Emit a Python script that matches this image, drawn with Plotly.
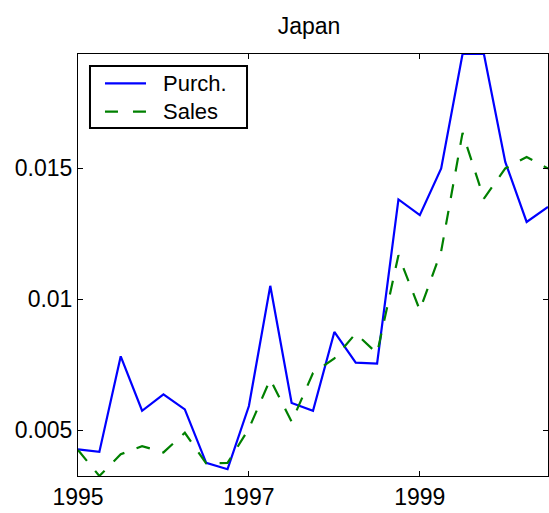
import plotly.graph_objects as go

years = [1995 + 0.25 * i for i in range(23)]
purch = [0.00427, 0.00417, 0.00782, 0.00574, 0.00637, 0.00579, 0.00375, 0.00351,
         0.00592, 0.01051, 0.00604, 0.00574, 0.00875, 0.00758, 0.00754, 0.01381,
         0.01321, 0.01499, 0.01936, 0.01936, 0.01524, 0.01295, 0.01352]
sales = [0.00424, 0.00325, 0.00408, 0.00439, 0.00415, 0.00490, 0.00373, 0.00375,
         0.00506, 0.00694, 0.00532, 0.00718, 0.00774, 0.00869, 0.00793, 0.01168,
         0.00958, 0.01183, 0.01635, 0.01384, 0.01499, 0.01543, 0.01499]
x_ticks = [1995, 1997, 1999]
x_labels = ["1995", "1997", "1999"]
y_ticks = [0.005, 0.01, 0.015]
y_labels = ["0.005", "0.01", "0.015"]
series_names = ["Purch.", "Sales"]
series_colors = ["#0000ff", "#008000"]
series_dash = ["solid", "14px,13px"]

FONT = "Liberation Sans, Arial, Helvetica, sans-serif"

fig = go.Figure()
for name, vals, col, dash in zip(series_names, [purch, sales], series_colors, series_dash):
    fig.add_trace(go.Scatter(x=years, y=vals, mode="lines", name=name, showlegend=False,
                             hoverinfo="skip",
                             line=dict(color=col, width=2.2, dash=dash)))

ymin = min(min(purch), min(sales))
ymax = max(max(purch), max(sales))

axis_common = dict(showline=True, linecolor="black", linewidth=1, mirror="ticks",
                   ticks="inside", ticklen=5, tickcolor="black", tickwidth=1,
                   showgrid=False, zeroline=False,
                   tickfont=dict(family=FONT, size=23, color="black"))

# manual MATLAB-style legend (paper coordinates)
shapes = [dict(type="rect", xref="paper", yref="paper", x0=0.0255, x1=0.3596,
               y0=0.8246, y1=0.9716, line=dict(color="black", width=2),
               fillcolor="white", layer="above")]
annotations = []
leg_y = [0.9306, 0.8633]
for name, col, dash, ly in zip(series_names, series_colors, series_dash, leg_y):
    shapes.append(dict(type="line", xref="paper", yref="paper", x0=0.0574, x1=0.1447,
                       y0=ly, y1=ly,
                       line=dict(color=col, width=2.2, dash=dash if dash == "solid" else "13px,15px"),
                       layer="above"))
    annotations.append(dict(text=name, xref="paper", yref="paper", x=0.1766, y=ly,
                            xanchor="left", yanchor="middle", showarrow=False,
                            font=dict(family=FONT, size=22, color="black")))

fig.update_layout(
    width=549, height=513,
    margin=dict(l=78, r=1, t=54, b=37),
    paper_bgcolor="white", plot_bgcolor="white",
    title=dict(text="Japan", x=309 / 549, xanchor="center",
               y=1, yref="paper", yanchor="bottom", pad=dict(b=20),
               font=dict(family=FONT, size=23, color="black")),
    xaxis=dict(range=[1995, 2000.5], tickvals=x_ticks, ticktext=x_labels, **axis_common),
    yaxis=dict(range=[ymin, ymax], tickvals=y_ticks, ticktext=y_labels, **axis_common),
    shapes=shapes,
    annotations=annotations,
    showlegend=False,
    hovermode=False,
)

fig.write_html("out.html",
               config={"displayModeBar": False, "staticPlot": True},
               post_script="document.body.style.margin='0';document.body.style.overflow='hidden';")
